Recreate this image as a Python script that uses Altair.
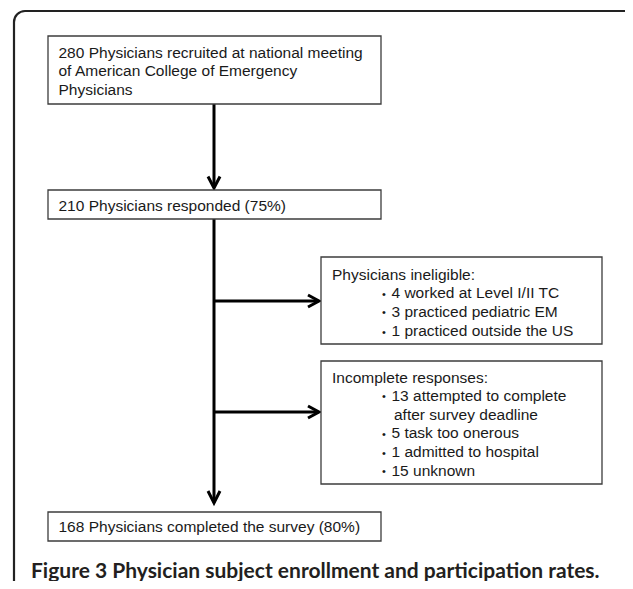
import altair as alt
import pandas as pd

# ---- content (text of the flow chart) ----
recruited_lines = ["280 Physicians recruited at national meeting",
                   "of American College of Emergency",
                   "Physicians"]
responded_lines = ["210 Physicians responded (75%)"]
ineligible_header = "Physicians ineligible:"
ineligible_items = ["4 worked at Level I/II TC",
                    "3 practiced pediatric EM",
                    "1 practiced outside the US"]
incomplete_header = "Incomplete responses:"
incomplete_items = [["13 attempted to complete", "after survey deadline"],
                    ["5 task too onerous"],
                    ["1 admitted to hospital"],
                    ["15 unknown"]]
completed_lines = ["168 Physicians completed the survey (80%)"]
caption = "Figure 3 Physician subject enrollment and participation rates."

# ---- layout (page pixel coordinates) ----
W, H = 633, 589
M = 8
box_x1 = [48, 48, 321, 321, 48]
box_x2 = [381, 381, 602, 602, 381]
box_y1 = [36, 190, 257, 361, 512]
box_y2 = [104, 219, 344, 484, 541]

main_text_x = 58.5
side_header_x = 332
bullet_x = 384
bullet_text_x = 391.5
cont_text_x = 394

rows = []
for t, yb in zip(recruited_lines, [57.5, 76, 94.5]):
    rows.append({"x": main_text_x, "y": yb, "t": t})
rows.append({"x": main_text_x, "y": 211, "t": responded_lines[0]})
rows.append({"x": main_text_x, "y": 532, "t": completed_lines[0]})
rows.append({"x": side_header_x, "y": 280, "t": ineligible_header})
bullets = []
for t, yb in zip(ineligible_items, [298, 316.5, 336]):
    rows.append({"x": bullet_text_x, "y": yb, "t": t})
    bullets.append({"x": bullet_x, "y": yb - 0.5})
rows.append({"x": side_header_x, "y": 383, "t": incomplete_header})
inc_y = [[400.5, 419.5], [438], [457], [475.5]]
for items, ys_ in zip(incomplete_items, inc_y):
    for j, (t, yb) in enumerate(zip(items, ys_)):
        rows.append({"x": bullet_text_x if j == 0 else cont_text_x, "y": yb, "t": t})
        if j == 0:
            bullets.append({"x": bullet_x, "y": yb - 0.5})
text_df = pd.DataFrame(rows)
bullet_df = pd.DataFrame(bullets)
bullet_df["t"] = "\u2022"

boxes_df = pd.DataFrame({"x": box_x1, "x2": box_x2, "y": box_y1, "y2": box_y2})

spine_x = 214
segments = [
    [(spine_x, 104), (spine_x, 187.5)],
    [(208, 176.5), (spine_x, 188), (220, 176.5)],
    [(spine_x, 219), (spine_x, 502.5)],
    [(208, 491), (spine_x, 503), (220, 491)],
    [(spine_x, 301), (318.5, 301)],
    [(308, 295), (319, 301), (308, 307)],
    [(spine_x, 412), (318.5, 412)],
    [(308, 406), (319, 412), (308, 418)],
]
seg_rows = []
for i, seg in enumerate(segments):
    for k, (px, py) in enumerate(seg):
        seg_rows.append({"x": px, "y": py, "seg": i, "o": k})
seg_df = pd.DataFrame(seg_rows)

frame_df = pd.DataFrame({"x": [14], "x2": [645], "y": [11], "y2": [610]})
cap_df = pd.DataFrame({"x": [31], "y": [578], "t": [caption]})

xs = alt.Scale(domain=[M, W - M], nice=False, zero=False)
ys = alt.Scale(domain=[H - M, M], nice=False, zero=False)
X = alt.X("x:Q", scale=xs, axis=None)
Y = alt.Y("y:Q", scale=ys, axis=None)

frame = alt.Chart(frame_df).mark_rect(
    fillOpacity=0, stroke="#222222", strokeWidth=2.2, cornerRadius=11, clip=False
).encode(x=X, x2="x2:Q", y=Y, y2="y2:Q")

arrows = alt.Chart(seg_df).mark_line(
    color="#000000", strokeWidth=3, strokeJoin="miter", strokeCap="butt"
).encode(x=X, y=Y, detail="seg:N", order="o:Q")

boxes = alt.Chart(boxes_df).mark_rect(
    fill="white", stroke="#3c3c3c", strokeWidth=1.3
).encode(x=X, x2="x2:Q", y=Y, y2="y2:Q")

texts = alt.Chart(text_df).mark_text(
    align="left", baseline="alphabetic", font="Liberation Sans",
    fontSize=15.5, color="#1a1a1a"
).encode(x=X, y=Y, text="t:N")

bul = alt.Chart(bullet_df).mark_text(
    align="center", baseline="alphabetic", font="Liberation Sans",
    fontSize=11, color="#1a1a1a"
).encode(x=X, y=Y, text="t:N")

cap = alt.Chart(cap_df).mark_text(
    align="left", baseline="alphabetic", font="Lato", fontWeight="bold",
    fontSize=21, color="#231f20"
).encode(x=X, y=Y, text="t:N")

chart = alt.layer(frame, arrows, boxes, texts, bul, cap).properties(
    width=W - 2 * M, height=H - 2 * M, padding=0, autosize="none", background="white"
).configure_view(stroke=None)

chart.save("out.html", embed_options={"renderer": "svg", "actions": False})
